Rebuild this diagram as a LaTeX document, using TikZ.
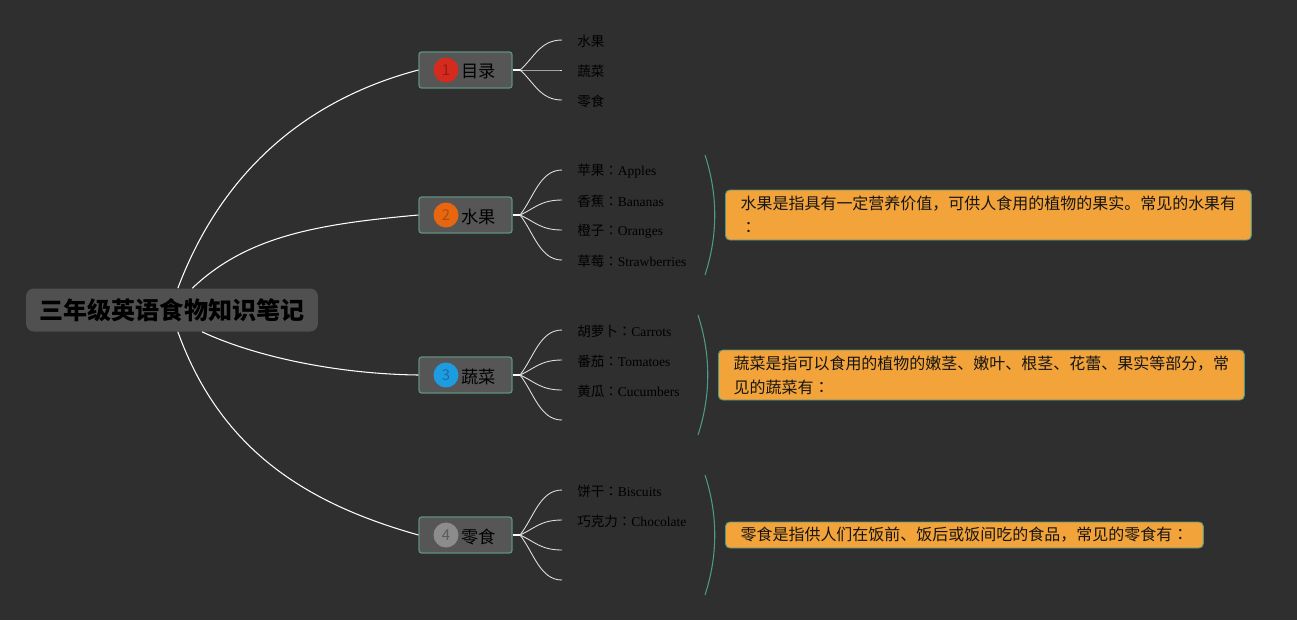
\documentclass[tikz,border=0pt]{standalone}
\usepackage{fontspec}
\setmainfont{Liberation Serif}
\newfontfamily\cjk{Noto Sans CJK SC}
\newfontfamily\cjktc{Noto Sans CJK TC}
\newcommand{\fullcolon}{{\cjktc ：}}
\usepackage{tikz}
\usetikzlibrary{positioning}

\definecolor{canvas}{HTML}{2F2F2F}
\definecolor{rootgray}{HTML}{505050}
\definecolor{topicgray}{HTML}{565656}
\definecolor{topicedge}{HTML}{5F9080}
\definecolor{summaryteal}{HTML}{4F9A85}
\definecolor{notefill}{HTML}{F2A33A}
\definecolor{inkdark}{HTML}{151515}
\definecolor{badgered}{HTML}{D52B1E}
\definecolor{badgeredtxt}{HTML}{9C1A10}
\definecolor{badgeorange}{HTML}{E8660F}
\definecolor{badgeorangetxt}{HTML}{B04C0A}
\definecolor{badgeblue}{HTML}{1E9CE0}
\definecolor{badgebluetxt}{HTML}{1670A8}
\definecolor{badgegray}{HTML}{8C8C8C}
\definecolor{badgegraytxt}{HTML}{5C5C5C}

\tikzset{
    rootnode/.style={
        rounded corners=4.5pt, fill=rootgray, text=black,
        minimum width=5.84cm, minimum height=0.86cm,
        font=\cjk\bfseries\fontsize{13.7}{16}\selectfont
    },
    topicbox/.style={
        rounded corners=1.5pt, draw=topicedge, fill=topicgray,
        line width=0.7pt, minimum width=1.86cm, minimum height=0.72cm
    },
    topiclabel/.style={
        anchor=west, inner sep=0pt, text=black, yshift=-0.03cm,
        font=\cjk\fontsize{9.8}{11}\selectfont
    },
    badge/.style 2 args={
        circle, fill=#1, text=#2, minimum size=0.5cm, inner sep=0pt,
        font=\cjk\fontsize{8.5}{9}\selectfont
    },
    leaf/.style={
        anchor=west, inner xsep=0.3cm, inner ysep=1pt, text=black,
        yshift=-0.03cm, font=\fontsize{7.7}{9}\selectfont
    },
    note/.style={
        anchor=west, rounded corners=2.5pt, draw=summaryteal, fill=notefill,
        line width=0.5pt, align=left, inner ysep=2pt, text=inkdark,
        font=\cjk\fontsize{9.1}{13.6}\selectfont
    },
    branch/.style={white, line width=0.6pt},
    stub/.style={white, line width=1.4pt},
    twig/.style={white!88!black, line width=0.5pt},
    summary/.style={summaryteal, line width=0.6pt}
}

\begin{document}
\begin{tikzpicture}[x=0.02cm, y=-0.02cm]
    \fill[canvas] (0,0) rectangle (1297,620);

    % Central topic
    \node[rootnode] (root) at (172,310) {三年级英语食物知识笔记};

    % Main topics
    \node[topicbox] (t1) at (465.5,70)  {};
    \node[topicbox] (t2) at (465.5,215) {};
    \node[topicbox] (t3) at (465.5,375) {};
    \node[topicbox] (t4) at (465.5,535) {};
    \node[badge={badgered}{badgeredtxt}]       (b1) at (446,70)  {1};
    \node[badge={badgeorange}{badgeorangetxt}] (b2) at (446,215) {2};
    \node[badge={badgeblue}{badgebluetxt}]     (b3) at (446,375) {3};
    \node[badge={badgegray}{badgegraytxt}]     (b4) at (446,535) {4};
    \node[topiclabel] (l1) at (461,70)  {目录};
    \node[topiclabel] (l2) at (461,215) {水果};
    \node[topiclabel] (l3) at (461,375) {蔬菜};
    \node[topiclabel] (l4) at (461,535) {零食};

    % Central topic to main topics
    \draw[branch] (root.75)  .. controls (224,166) and (312,98)  .. (t1.west);
    \draw[branch] (root.47)  .. controls (247,236) and (318,224) .. (t2.west);
    \draw[branch] (root.-36) .. controls (256,357) and (338,374) .. (t3.west);
    \draw[branch] (root.-75) .. controls (222,454) and (312,505) .. (t4.west);

    % Subtopics
    \node[leaf] (m1) at (562,40)  {\cjk 水果};
    \node[leaf] (m2) at (562,70)  {\cjk 蔬菜};
    \node[leaf] (m3) at (562,100) {\cjk 零食};

    \node[leaf] (f1) at (562,170) {{\cjk 苹果}\fullcolon Apples};
    \node[leaf] (f2) at (562,200) {{\cjk 香蕉}\fullcolon Bananas};
    \node[leaf] (f3) at (562,230) {{\cjk 橙子}\fullcolon Oranges};
    \node[leaf] (f4) at (562,260) {{\cjk 草莓}\fullcolon Strawberries};

    \node[leaf] (v1) at (562,330) {{\cjk 胡萝卜}\fullcolon Carrots};
    \node[leaf] (v2) at (562,360) {{\cjk 番茄}\fullcolon Tomatoes};
    \node[leaf] (v3) at (562,390) {{\cjk 黄瓜}\fullcolon Cucumbers};
    \node[leaf] (v4) at (562,420) {};

    \node[leaf] (s1) at (562,490) {{\cjk 饼干}\fullcolon Biscuits};
    \node[leaf] (s2) at (562,520) {{\cjk 巧克力}\fullcolon Chocolate};
    \node[leaf] (s3) at (562,550) {};
    \node[leaf] (s4) at (562,580) {};

    % Main topics to subtopics
    \coordinate (j1) at (520,70);
    \coordinate (j2) at (520,215);
    \coordinate (j3) at (520,375);
    \coordinate (j4) at (520,535);
    \draw[stub] (t1.east) -- (j1);
    \draw[stub] (t2.east) -- (j2);
    \draw[stub] (t3.east) -- (j3);
    \draw[stub] (t4.east) -- (j4);
    \foreach \leaf/\dy in {m1/-12, m2/0, m3/12}
        \draw[twig] (j1) .. controls +(14,\dy) and +(-22,0) .. ([yshift=0.03cm]\leaf.west);
    \foreach \leaf/\dy in {f1/-18, f2/-6, f3/6, f4/18}
        \draw[twig] (j2) .. controls +(14,\dy) and +(-22,0) .. ([yshift=0.03cm]\leaf.west);
    \foreach \leaf/\dy in {v1/-18, v2/-6, v3/6, v4/18}
        \draw[twig] (j3) .. controls +(14,\dy) and +(-22,0) .. ([yshift=0.03cm]\leaf.west);
    \foreach \leaf/\dy in {s1/-18, s2/-6, s3/6, s4/18}
        \draw[twig] (j4) .. controls +(14,\dy) and +(-22,0) .. ([yshift=0.03cm]\leaf.west);

    % Summary brackets
    \draw[summary] (705,155) .. controls (718,195) and (718,235) .. (705,275);
    \draw[summary] (698,315) .. controls (711,355) and (711,395) .. (698,435);
    \draw[summary] (705,475) .. controls (718,515) and (718,555) .. (705,595);

    % Summary notes
    \node[note, minimum width=10.52cm, minimum height=1cm] (n2) at (725,215)
        {水果是指具有一定营养价值，可供人食用的植物的果实。常见的水果有\\\fullcolon};
    \node[note, minimum width=10.52cm, minimum height=1cm] (n3) at (718,375)
        {蔬菜是指可以食用的植物的嫩茎、嫩叶、根茎、花蕾、果实等部分，常\\见的蔬菜有\fullcolon};
    \node[note, minimum width=9.56cm, minimum height=0.52cm] (n4) at (725,535)
        {零食是指供人们在饭前、饭后或饭间吃的食品，常见的零食有\fullcolon};
\end{tikzpicture}
\end{document}
